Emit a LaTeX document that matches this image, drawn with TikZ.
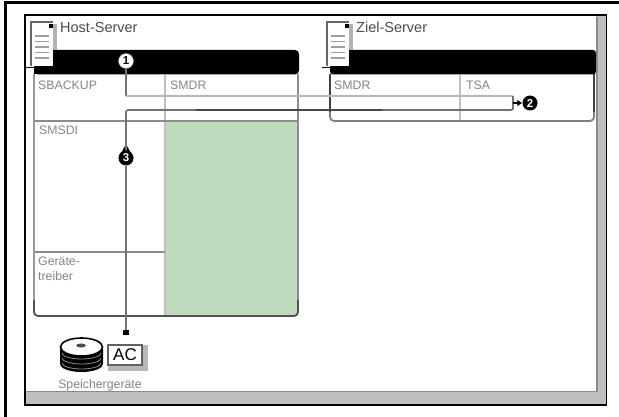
\documentclass[tikz,border=0pt]{standalone}
\usepackage{fontspec}
\setmainfont{Liberation Sans}
\usetikzlibrary{arrows.meta,calc,positioning}
\definecolor{panelgrey}{gray}{0.75}
\definecolor{planegreen}{HTML}{BFDABD}

\begin{document}
\begin{tikzpicture}[
    x=1pt,y=-1pt,
    >=Latex,
    title/.style={anchor=west, inner sep=0pt, font=\fontsize{14.5}{15}\selectfont, text=black!70},
    label/.style={anchor=west, inner sep=0pt, align=left, font=\fontsize{12.3}{15}\selectfont, text=black!48},
    marker/.style={
        circle,
        minimum size=15pt,
        inner sep=0pt,
        font=\fontsize{11.5}{11.5}\selectfont\bfseries
    },
    whitemark/.style={marker, fill=white, draw=black!45, text=black},
    blackmark/.style={marker, fill=black, text=white},
    divider/.style={line width=1.6pt, draw=black!45},
    softdivider/.style={line width=2.4pt, draw=black!25},
    flow/.style={line width=1.7pt, draw=black!55},
    lightflow/.style={line width=2pt, draw=black!28},
    darkflow/.style={line width=1.7pt, draw=black!72}
]
\useasboundingbox (0,0) rectangle (619,417);

% -----------------------------------------------------------------------------
% Outer frame and window
% -----------------------------------------------------------------------------
\draw[line width=2.4pt] (5.5,417) -- (5.5,2.5) -- (619,2.5);
\fill[panelgrey] (25,15) rectangle (606.5,405);
\fill[white] (26,16) rectangle (596,391);
\draw[line width=1.6pt, draw=black!45] (26,391.5) -- (597,391.5) -- (597,17);
\draw[line width=1.6pt] (25,405) rectangle (606.5,15);

% -----------------------------------------------------------------------------
% Host server
% -----------------------------------------------------------------------------
\fill[planegreen] (165,121) rectangle (298,316);
\draw[softdivider] (165,75) -- (165,316);
\draw[divider] (34,121) -- (298,121);
\draw[divider] (34,252) -- (165,252);
\draw[line width=2.4pt, draw=black!40] (34,74) -- (34,310);
\draw[line width=1.8pt, draw=black!45] (298,74) -- (298,310);
\draw[line width=1.8pt, draw=black!68, rounded corners=4pt] (34,300) -- (34,316) -- (298,316) -- (298,300);
\fill[rounded corners=4pt] (34,74.5) -- (34,50) -- (299,50) -- (299,74.5) -- cycle;
\fill (34,60) rectangle (45,74.5);

\node[label] (hostbackup) at (38,85) {SBACKUP};
\node[label] (hostsmdr) at (170,85) {SMDR};
\node[label] (hostsmsdi) at (39,130) {SMSDI};
\node[label, anchor=north west] (hosttreiber) at (38,257) {Geräte-\\treiber};

% -----------------------------------------------------------------------------
% Target server
% -----------------------------------------------------------------------------
\draw[softdivider, line width=2pt] (460,75) -- (460,121);
\draw[line width=1.8pt, draw=black!50, rounded corners=4pt] (330,100) -- (330,121) -- (594,121) -- (594,100);
\draw[line width=1.8pt, draw=black!75] (330,74) -- (330,112);
\draw[line width=1.8pt, draw=black!75] (594,74) -- (594,112);
\fill[rounded corners=3pt] (330,74.5) -- (330,50) -- (596,50) -- (596,74.5) -- cycle;

\node[label] (targetsmdr) at (334,85) {SMDR};
\node[label] (targettsa) at (466,85) {TSA};

% -----------------------------------------------------------------------------
% Server icons
% -----------------------------------------------------------------------------
\foreach \ox/\name/\txt in {0/host/Host-Server,296/target/Ziel-Server} {
    \begin{scope}[xshift=\ox pt]
        \fill[black!30] (53,24) rectangle (57,50);
        \fill[white] (31,22) rectangle (53,66);
        \draw[line width=1.8pt, draw=black!60] (31,66) -- (31,22) -- (53,22);
        \draw[line width=1.3pt] (26,67.5) -- (54,67.5);
        \fill (48.5,24) rectangle (53,28.5);
        \foreach \ly in {36,41.5,47,52.5,58} {
            \draw[line width=1.6pt, draw=black!38] (35,\ly) -- (49,\ly);
        }
        \node[title] (\name title) at (60,27.5) {\txt};
    \end{scope}
}

% -----------------------------------------------------------------------------
% Markers and data path
% -----------------------------------------------------------------------------
\fill (126,144) -- (118.5,158) -- (133.5,158) -- cycle;
\node[whitemark] (stepone) at (126,61) {1};
\node[blackmark] (steptwo) at (530,103) {2};
\node[blackmark] (stepthree) at (126,158) {3};

\coordinate (upleft) at (126,96);
\coordinate (upright) at (513,96);
\coordinate (downright) at (513,110);
\coordinate (downleft) at (126,110);
\coordinate (darkfrom) at (196,110);
\coordinate (darkto) at (382,110);
\coordinate (branch) at (513,103);

% -----------------------------------------------------------------------------
% Storage devices
% -----------------------------------------------------------------------------
\fill[black!28] (108,345) rectangle (148,371);
\node[draw=black!62, line width=1.8pt, fill=white, minimum width=34pt, minimum height=20pt,
    inner sep=0pt, font=\fontsize{17}{17}\selectfont, text=black] (tape) at (125,355) {AC};
\coordinate (tapetop) at (126,335);

\fill (60,349) -- (60,364) arc[start angle=180, end angle=0, x radius=21.5, y radius=8]
    -- (103,349) -- cycle;
\foreach \ly in {353,358,363} {
    \draw[line width=0.8pt, draw=black!45] (62,\ly) arc[start angle=180, end angle=0, x radius=19.5, y radius=6];
}
\draw[line width=1.6pt, fill=white] (81.5,347) ellipse[x radius=21, y radius=9];
\fill[black!70] (81,345.5) ellipse[x radius=5, y radius=2];
\node[label, anchor=center] (storage) at (100,385) {Speichergeräte};

% wires last, so they lie on the boxes
\draw[flow] (stepone) -- (upleft);
\draw[lightflow, rounded corners=2pt] (upleft) -- (upright) -- (downright);
\draw[flow, rounded corners=2pt] (upright) -- (downright) -- (darkto);
\draw[darkflow] (darkto) -- (darkfrom);
\draw[flow, rounded corners=2pt] (darkfrom) -- (downleft) -- (stepthree);
\draw[flow, -{Square[length=5pt,width=6pt,black]}] (stepthree) -- (tapetop);
\draw[line width=2.4pt, -{Latex[length=5pt,width=7pt]}] (branch) -- (steptwo);
\end{tikzpicture}
\end{document}
